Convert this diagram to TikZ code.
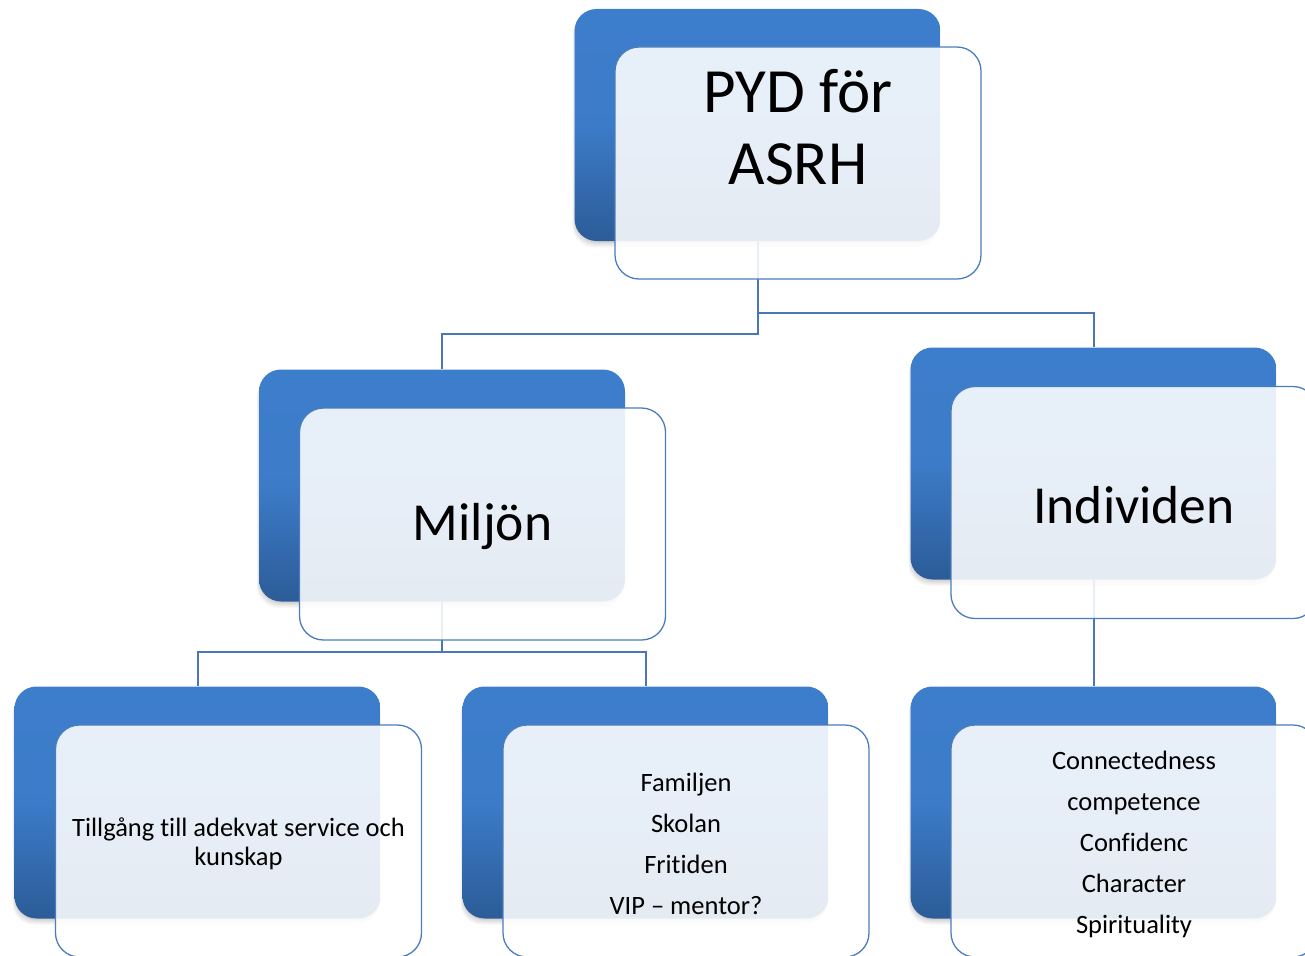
\documentclass[tikz,border=0pt]{standalone}
\usepackage{fontspec}
\setmainfont{Carlito}[RawFeature={-liga;-clig;-dlig}]
\usetikzlibrary{shadows}
\definecolor{bTop}{RGB}{61,126,204}
\definecolor{bBot}{RGB}{44,92,152}
\definecolor{fEdge}{RGB}{74,126,187}
\definecolor{lnC}{RGB}{72,120,182}
\newcommand\nti{t\kern0pt i}
\tikzset{
  backbox/.style={rounded corners=22pt, minimum width=366pt, minimum height=232pt, inner sep=0pt,
    top color=bTop, bottom color=bBot, middle color=bTop!92!bBot, draw=none,
    general shadow={fill=black, opacity=.07, shadow yshift=-2pt},
    general shadow={fill=black, opacity=.06, shadow yshift=-4pt, shadow xshift=-1pt},
    general shadow={fill=black, opacity=.05, shadow yshift=-6pt, shadow xshift=-2pt}},
  frontbox/.style={rounded corners=24pt, minimum width=366pt, minimum height=232pt, inner sep=0pt,
    draw=fEdge, line width=1.3pt, fill=white, fill opacity=0.88, draw opacity=1},
  txt/.style={align=center, text=black, inner sep=0pt, yshift=-3pt},
  conn/.style={draw=lnC, line width=2pt},
  bigtxt/.style={txt, font=\fontsize{53.5}{62}\selectfont},
  smalltxt/.style={txt, font=\fontsize{26.5}{41}\selectfont},
}
\begin{document}
\begin{tikzpicture}[x=1pt,y=-1pt]
\useasboundingbox (0,0) rectangle (1305,955);
\clip (0,0) rectangle (1305,955);
% back boxes
\node[backbox] (b0) at (757.5,125) {};
\node[backbox] (b1) at (442,485.5) {};
\node[backbox] (b2) at (1093.5,463.5) {};
\node[backbox] (b3) at (197.5,802.5) {};
\node[backbox] (b4) at (645.5,802.5) {};
\node[backbox] (b5) at (1093.5,802.5) {};
% junction coordinates
\coordinate (j0) at (0,334);
\coordinate (j1) at (0,313);
\coordinate (j2) at (0,652);
% connectors
\draw[conn] (b0.south) -- (b0.south |- j0) -| (b1.north);
\draw[conn] (b0.south |- j1) -| (b2.north);
\draw[conn] (b1.south) -- (b1.south |- j2) -| (b3.north);
\draw[conn] (b1.south |- j2) -| (b4.north);
\draw[conn] (b2.south) -- (b5.north);
% front boxes
\node[frontbox] (f0) at (798,163) {};
\node[frontbox] (f1) at (482.5,524) {};
\node[frontbox] (f2) at (1134,502.5) {};
\node[frontbox] (f3) at (238.5,841) {};
\node[frontbox] (f4) at (686,841) {};
\node[frontbox] (f5) at (1134,841) {};
% texts
\node[txt, font=\fontsize{63}{72}\selectfont] (t0) at (798,124) {PYD för\\ASRH};
\node[bigtxt] (t1) at (f1.center) {Miljön};
\node[bigtxt] (t2) at (f2.center) {Individen};
\node[txt, font=\fontsize{26.5}{29}\selectfont] (t3) at (f3.center) {Tillgång \nti ll adekvat service och\\kunskap};
\node[smalltxt] (t4) at (f4.center) {Familjen\\Skolan\\Fri\nti den\\VIP – mentor?};
\node[smalltxt] (t5) at (f5.center) {Connectedness\\competence\\Confidenc\\Character\\Spirituality};
\end{tikzpicture}
\end{document}
